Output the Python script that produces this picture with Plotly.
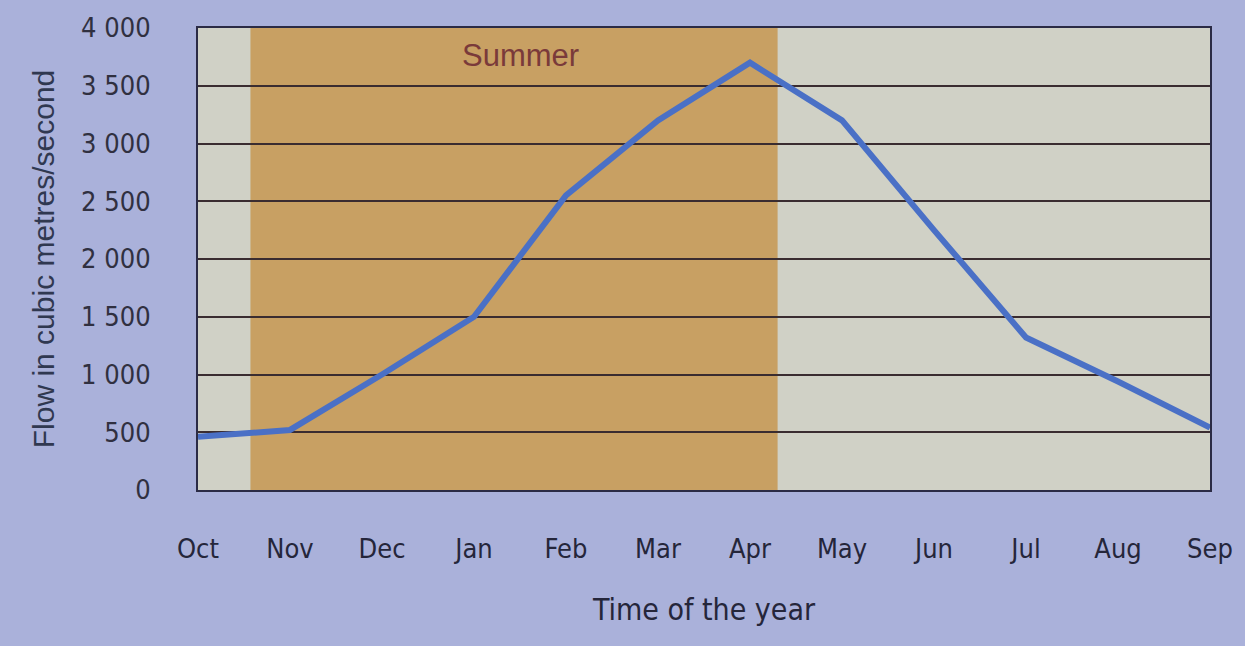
import plotly.graph_objects as go

months = ["Oct", "Nov", "Dec", "Jan", "Feb", "Mar", "Apr", "May", "Jun", "Jul", "Aug", "Sep"]
flow = [460, 520, 1000, 1500, 2550, 3200, 3700, 3200, 2250, 1320, 940, 540]
y_tick_vals = [0, 500, 1000, 1500, 2000, 2500, 3000, 3500, 4000]
y_tick_text = ["0", "500", "1 000", "1 500", "2 000", "2 500", "3 000", "3 500", "4 000"]
summer_start, summer_end = 0.57, 6.3

x_idx = list(range(len(months)))

narrow = "Liberation Sans Narrow, Arial Narrow, DejaVu Sans Condensed, sans-serif"

fig = go.Figure()
fig.add_trace(go.Scatter(
    x=x_idx, y=flow, mode="lines",
    line=dict(color="#4a70c6", width=6),
    showlegend=False, hoverinfo="skip",
))

fig.add_shape(type="rect", xref="x", yref="paper",
              x0=summer_start, x1=summer_end, y0=0, y1=1,
              fillcolor="#c8a063", line_width=0, layer="below")

fig.add_annotation(x=3.5, y=3760, xref="x", yref="y", text="Summer",
                   showarrow=False,
                   font=dict(family="Liberation Sans, Arial, sans-serif", size=31, color="#7a3a3a"))

fig.update_layout(
    width=1245, height=646,
    paper_bgcolor="#aab1da",
    plot_bgcolor="#d0d1c6",
    margin=dict(l=198, r=30, t=25, b=156),
    xaxis=dict(
        range=[0, 11],
        tickvals=x_idx, ticktext=months,
        ticks="outside", ticklen=34, tickcolor="rgba(0,0,0,0)",
        tickfont=dict(family=narrow, size=27, color="#25263a"),
        showgrid=False, zeroline=False,
        showline=True, mirror=True, linecolor="#2b2b45", linewidth=2,
        title=dict(text="Time of the year", standoff=36,
                   font=dict(family=narrow, size=30, color="#25263a")),
    ),
    yaxis=dict(
        range=[0, 4000],
        tickvals=y_tick_vals, ticktext=y_tick_text,
        ticks="outside", ticklen=40, tickcolor="rgba(0,0,0,0)",
        tickfont=dict(family=narrow, size=27, color="#303040"),
        showgrid=True, gridcolor="#3a2c30", gridwidth=2,
        zeroline=False,
        showline=True, mirror=True, linecolor="#2b2b45", linewidth=2,
        title=dict(text="Flow in cubic metres/second", standoff=18,
                   font=dict(family="Liberation Sans, Arial, sans-serif", size=30, color="#303850")),
    ),
)

fig.write_html("out.html", config={"displayModeBar": False},
               post_script="document.body.style.margin='0';document.body.style.background='#aab1da';")
